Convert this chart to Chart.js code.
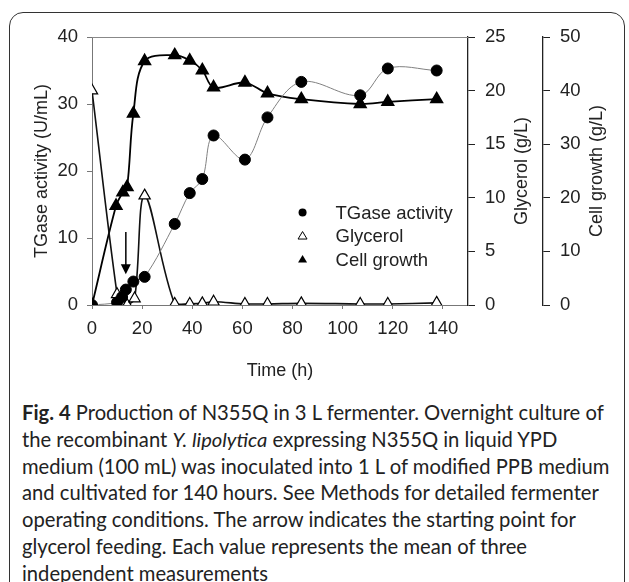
<!DOCTYPE html>
<html>
<head>
<meta charset="utf-8">
<script src="https://cdn.jsdelivr.net/npm/chart.js@4/dist/chart.umd.min.js"></script>
<style>
  html, body { margin: 0; padding: 0; background: #fff; }
  body { width: 629px; height: 582px; position: relative; overflow: hidden; }
  #marco {
    position: absolute; left: 9px; top: 12px; width: 616px; height: 590px;
    border: 1.5px solid #333; border-radius: 14px; box-sizing: border-box;
  }
  #grafico { position: absolute; left: 0; top: 0; }
  #leyenda {
    position: absolute; left: 22px; top: 399px; width: 600px;
    font-family: Lato, "Noto Sans", sans-serif; font-size: 20.2px; line-height: 26.8px;
    color: #222; white-space: nowrap;
  }
  #leyenda b { font-weight: bold; }
</style>
</head>
<body>
<div id="marco"></div>
<canvas id="grafico" width="629" height="390"></canvas>
<div id="leyenda">
  <b>Fig. 4</b> Production of N355Q in 3 L fermenter. Overnight culture of<br>
  the recombinant <i>Y. lipolytica</i> expressing N355Q in liquid YPD<br>
  medium (100 mL) was inoculated into 1 L of modified PPB medium<br>
  and cultivated for 140 hours. See Methods for detailed fermenter<br>
  operating conditions. The arrow indicates the starting point for<br>
  glycerol feeding. Each value represents the mean of three<br>
  independent measurements
</div>
<script>
// Datos (tiempo en horas)
const tiempoTGase = [0, 10, 12, 13.5, 16.5, 21, 33, 39, 44, 48.5, 61, 70, 83.5, 107, 118, 137.5];
const actividadTGase = [0, 0.4, 1.2, 2.3, 3.5, 4.2, 12.1, 16.7, 18.8, 25.3, 21.7, 28, 33.3, 31.3, 35.3, 35];

const tiempoGlicerol = [0, 10, 12, 14, 17, 21, 33, 39, 44, 48.5, 61, 70, 83.5, 107, 118, 137.5];
const glicerol = [20, 1.0, 0, 0, 0.6, 10.2, 0.1, 0.1, 0.15, 0.3, 0.1, 0.1, 0.15, 0.1, 0.1, 0.2];

const tiempoCelulas = [0, 9.6, 12.3, 14, 16.5, 21, 33, 39, 44, 48.5, 61, 70, 83.5, 107, 118, 137.5];
const crecimiento = [0, 18.5, 21, 22, 35.7, 45.5, 46.6, 45.6, 43.8, 40.6, 41.5, 39.5, 38.4, 37.5, 37.9, 38.4];

// Ticks de los ejes
const ticksX = [0, 20, 40, 60, 80, 100, 120, 140];
const ticksTGase = [0, 10, 20, 30, 40];
const ticksGlicerol = [0, 5, 10, 15, 20, 25];
const ticksCelulas = [0, 10, 20, 30, 40, 50];

// Flecha: inicio de la alimentación con glicerol
const flechaTiempo = 13.5;
const flechaDesde = 10.9;   // en U/mL
const flechaHasta = 4.6;

const nombres = ['TGase activity', 'Glycerol', 'Cell growth'];
const fuente = 'Liberation Sans, Arial, sans-serif';

const pares = (xs, ys) => xs.map((x, i) => ({ x: x, y: ys[i] }));
const fijarTicks = lista => scale => { scale.ticks = lista.map(v => ({ value: v })); };

// Plugin para la flecha, el borde superior, los títulos derechos y la leyenda
const extras = {
  id: 'extras',
  afterDraw(chart) {
    const ctx = chart.ctx;
    const { x, y, y2, y3 } = chart.scales;
    const area = chart.chartArea;
    ctx.save();

    // borde superior del área
    ctx.strokeStyle = '#888';
    ctx.lineWidth = 1;
    ctx.beginPath();
    ctx.moveTo(area.left, area.top + 0.5);
    ctx.lineTo(area.right, area.top + 0.5);
    ctx.stroke();

    // flecha
    const fx = x.getPixelForValue(flechaTiempo);
    const fy1 = y.getPixelForValue(flechaDesde);
    const fy2 = y.getPixelForValue(flechaHasta);
    ctx.strokeStyle = '#000';
    ctx.fillStyle = '#000';
    ctx.lineWidth = 1.5;
    ctx.beginPath();
    ctx.moveTo(fx, fy1);
    ctx.lineTo(fx, fy2 - 8);
    ctx.stroke();
    ctx.beginPath();
    ctx.moveTo(fx - 5, fy2 - 10);
    ctx.lineTo(fx + 5, fy2 - 10);
    ctx.lineTo(fx, fy2);
    ctx.closePath();
    ctx.fill();

    // títulos de los ejes derechos (leídos de abajo hacia arriba)
    ctx.font = '18px ' + fuente;
    ctx.fillStyle = '#222';
    ctx.textAlign = 'center';
    ctx.textBaseline = 'middle';
    const cy = (area.top + area.bottom) / 2;
    [[y2, 'Glycerol (g/L)', 21], [y3, 'Cell growth (g/L)', 32]].forEach(([s, t, off]) => {
      ctx.save();
      ctx.translate(s.right - off, cy);
      ctx.rotate(-Math.PI / 2);
      ctx.fillText(t, 0, 0);
      ctx.restore();
    });

    // leyenda
    const lx = x.getPixelForValue(84);
    const ly = y.getPixelForValue(13.8);
    ctx.font = '18.5px ' + fuente;
    ctx.textAlign = 'left';
    nombres.forEach((n, i) => {
      const yy = ly + i * 23.5;
      ctx.fillStyle = '#000';
      ctx.strokeStyle = '#000';
      ctx.lineWidth = 1;
      ctx.beginPath();
      if (i === 0) {
        ctx.arc(lx, yy, 4, 0, Math.PI * 2);
        ctx.fill();
      } else {
        ctx.moveTo(lx, yy - 4.5);
        ctx.lineTo(lx + 4.5, yy + 3);
        ctx.lineTo(lx - 4.5, yy + 3);
        ctx.closePath();
        if (i === 1) { ctx.fillStyle = '#fff'; ctx.fill(); ctx.stroke(); }
        else ctx.fill();
      }
      ctx.fillStyle = '#222';
      ctx.fillText(n, lx + 33, yy + 1);
    });
    ctx.restore();
  }
};

const ctx = document.getElementById('grafico').getContext('2d');
const miGrafico = new Chart(ctx, {
  type: 'line',
  data: {
    datasets: [{
      label: nombres[0],
      data: pares(tiempoTGase, actividadTGase),
      yAxisID: 'y',
      borderColor: '#808080',
      borderWidth: 1,
      backgroundColor: '#000',
      pointBorderColor: '#000',
      pointStyle: 'circle',
      pointRadius: 5.5,
      tension: 0.35
    }, {
      label: nombres[1],
      data: pares(tiempoGlicerol, glicerol),
      yAxisID: 'y2',
      borderColor: '#111',
      borderWidth: 1.6,
      backgroundColor: '#fff',
      pointBorderColor: '#000',
      pointBorderWidth: 1.2,
      pointStyle: 'triangle',
      pointRadius: 6.5,
      tension: 0.35
    }, {
      label: nombres[2],
      data: pares(tiempoCelulas, crecimiento),
      yAxisID: 'y3',
      borderColor: '#000',
      borderWidth: 1.8,
      backgroundColor: '#000',
      pointBorderColor: '#000',
      pointStyle: 'triangle',
      pointRadius: 6.5,
      tension: 0.35
    }]
  },
  options: {
    responsive: false,
    animation: false,
    devicePixelRatio: 1,
    layout: { padding: { top: 37, left: 0, right: 0, bottom: 0 } },
    plugins: { legend: { display: false }, tooltip: { enabled: false } },
    scales: {
      x: {
        type: 'linear', min: 0, max: 150,
        afterBuildTicks: fijarTicks(ticksX),
        afterFit: s => { s.height = 85; },
        grid: { drawOnChartArea: false, tickLength: 4, color: '#777' },
        border: { color: '#777' },
        ticks: { color: '#222', font: { family: fuente, size: 18.5 }, padding: 9, maxRotation: 0 },
        title: { display: true, text: 'Time (h)', color: '#222', font: { family: fuente, size: 18 }, padding: { bottom: 8 } }
      },
      y: {
        position: 'left', min: 0, max: 40,
        afterBuildTicks: fijarTicks(ticksTGase),
        afterFit: s => { s.width = 92; },
        grid: { drawOnChartArea: false, tickLength: 5, color: '#777' },
        border: { color: '#777' },
        ticks: { color: '#222', font: { family: fuente, size: 18.5 }, padding: 9 },
        title: { display: true, text: 'TGase activity (U/mL)', color: '#222', font: { family: fuente, size: 18 }, padding: { top: 31 } }
      },
      y2: {
        position: 'right', min: 0, max: 25, weight: 0,
        afterBuildTicks: fijarTicks(ticksGlicerol),
        afterFit: s => { s.width = 75; },
        grid: { drawOnChartArea: false, tickLength: 7, color: '#222' },
        border: { color: '#222', width: 1.3 },
        ticks: { color: '#222', font: { family: fuente, size: 18.5 }, padding: 10 }
      },
      y3: {
        position: 'right', min: 0, max: 50, weight: 1,
        afterBuildTicks: fijarTicks(ticksCelulas),
        afterFit: s => { s.width = 86; },
        grid: { drawOnChartArea: false, tickLength: 7, color: '#222' },
        border: { color: '#222', width: 1.3 },
        ticks: { color: '#222', font: { family: fuente, size: 18.5 }, padding: 10 }
      }
    }
  },
  plugins: [extras]
});
</script>
</body>
</html>
